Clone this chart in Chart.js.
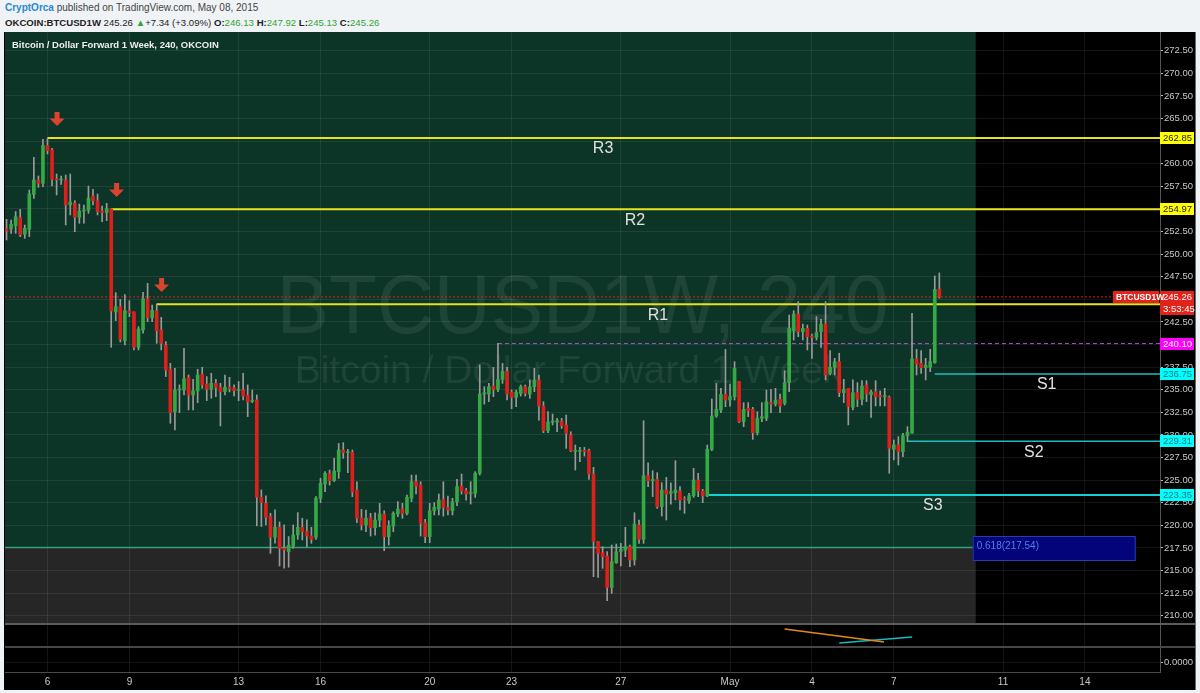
<!DOCTYPE html>
<html>
<head>
<meta charset="utf-8">
<script src="https://cdn.jsdelivr.net/npm/chart.js@4.4.1/dist/chart.umd.min.js"></script>
<style>
  html, body { margin: 0; padding: 0; }
  body { width: 1200px; height: 693px; background: #f0f3f6; position: relative; overflow: hidden;
         font-family: "Liberation Sans", Arial, sans-serif; }
  #hdr1 { position: absolute; left: 5px; top: 2px; font-size: 10px; color: #444; white-space: nowrap; }
  #hdr1 .who { color: #2a87d0; font-weight: bold; }
  #hdr2 { position: absolute; left: 5px; top: 17px; font-size: 9.6px; color: #222; white-space: nowrap; }
  #hdr2 .g { color: #2fa52f; }
  #wrap { position: absolute; left: 4px; top: 32px; width: 1191px; height: 658px; background: #000;
          border-right: 1px solid #6a6a6a; }
</style>
</head>
<body>
<div id="hdr1"><span class="who">CryptOrca</span> published on TradingView.com, May 08, 2015</div>
<div id="hdr2"><b>OKCOIN:BTCUSD1W</b> 245.26 <span class="g">&#9650;</span>+7.34 (+3.09%) <b>O:</b><span class="g">246.13</span> <b>H:</b><span class="g">247.92</span> <b>L:</b><span class="g">245.13</span> <b>C:</b><span class="g">245.26</span></div>
<div id="wrap"><canvas id="c"></canvas></div>
<script>
// x values are days counted from Apr 0 (May 1 = 31)
const xTickPos = [6, 9, 13, 16, 20, 23, 27, 31, 34, 37, 41, 44];
const xTickLabels = ['6', '9', '13', '16', '20', '23', '27', 'May', '4', '7', '11', '14'];
const yTicks = [210, 212.5, 215, 217.5, 220, 222.5, 225, 227.5, 230, 232.5, 235, 237.5, 240,
  242.5, 245, 247.5, 250, 252.5, 255, 257.5, 260, 262.5, 265, 267.5, 270, 272.5];

const firstCandle = 4.5;   // Apr 4, 12:00
const candleStep = 1 / 6;  // 240 minute bars

const opens = [
  252.78, 252.78, 253.15, 254.03, 252.19, 252.74, 256.61, 258.20, 257.83, 262.00,
  261.52, 258.27, 258.20, 258.20, 255.43, 255.62, 254.07, 254.77, 254.84, 256.43,
  255.91, 254.77, 254.59, 254.99, 243.60, 244.19, 240.43, 243.71, 243.60, 239.69,
  241.61, 245.04, 242.97, 243.71, 241.61, 239.91, 237.26, 232.57, 234.97, 234.97,
  236.37, 234.42, 234.86, 236.71, 235.64, 235.05, 235.71, 235.27, 234.79, 235.27,
  235.20, 234.90, 234.97, 234.38, 233.72, 233.87, 223.10, 222.43, 220.96, 218.67,
  219.78, 217.46, 217.09, 217.71, 218.93, 219.78, 219.30, 218.82, 218.67, 222.99,
  224.57, 225.74, 224.93, 225.93, 228.33, 228.03, 228.07, 223.90, 220.84, 220.03,
  220.84, 219.73, 220.58, 221.25, 218.74, 219.92, 221.25, 221.80, 221.32, 222.98,
  224.82, 224.45, 220.29, 218.74, 221.61, 221.80, 222.87, 221.98, 221.61, 222.61,
  224.34, 223.83, 223.53, 223.53, 225.74, 234.52, 234.52, 235.40, 235.04, 236.14,
  237.03, 234.74, 234.15, 234.59, 235.33, 234.52, 235.33, 236.07, 233.19, 230.46,
  231.42, 231.42, 231.53, 231.09, 229.99, 228.18, 228.18, 228.29, 228.25, 225.67,
  218.19, 216.97, 216.60, 213.13, 215.86, 217.08, 217.26, 217.63, 216.16, 220.03,
  218.44, 225.49, 224.93, 225.08, 222.06, 223.90, 223.53, 223.61, 223.79, 222.87,
  222.72, 223.28, 225.01, 223.79, 223.24, 228.40, 232.09, 232.75, 234.48, 233.86,
  234.23, 235.89, 231.46, 232.94, 232.83, 230.24, 231.83, 231.83, 233.57, 233.42,
  233.94, 233.49, 235.78, 241.53, 243.37, 241.42, 241.79, 240.94, 240.80, 241.42,
  242.27, 236.81, 237.48, 238.10, 234.67, 235.15, 233.05, 234.67, 233.94, 235.52,
  234.45, 234.78, 234.34, 234.23, 234.16, 228.41, 228.89, 228.15, 229.92, 230.18,
  238.40, 237.92, 237.44, 237.48, 238.00, 246.13
];
const highs = [
  253.85, 253.77, 254.70, 254.95, 253.22, 257.09, 260.70, 258.64, 262.70, 262.81,
  261.70, 258.86, 258.64, 258.75, 258.86, 255.91, 255.54, 255.43, 257.53, 257.17,
  256.65, 255.32, 255.62, 255.00, 245.74, 245.00, 245.52, 244.85, 243.60, 241.97,
  245.77, 246.77, 244.37, 244.48, 243.00, 240.32, 237.92, 237.37, 235.53, 239.58,
  236.63, 236.15, 237.26, 237.48, 236.45, 236.82, 236.15, 235.71, 236.63, 236.37,
  235.53, 235.90, 236.82, 235.53, 234.97, 234.42, 223.91, 223.25, 221.33, 221.70,
  220.37, 220.04, 218.75, 220.04, 221.40, 220.78, 220.59, 219.78, 223.17, 225.20,
  225.94, 226.11, 227.40, 229.06, 229.14, 228.40, 228.33, 224.82, 221.76, 221.69,
  221.32, 221.39, 222.43, 221.61, 220.51, 221.50, 222.61, 222.43, 223.35, 225.56,
  225.56, 224.82, 220.66, 222.43, 222.50, 223.46, 224.82, 223.24, 222.98, 225.08,
  225.67, 224.09, 224.82, 225.93, 237.73, 235.33, 235.70, 237.47, 240.13, 237.91,
  237.47, 234.96, 234.96, 235.52, 235.52, 236.07, 237.36, 236.62, 233.67, 232.57,
  232.30, 231.83, 231.83, 232.20, 230.35, 228.88, 228.62, 228.62, 228.44, 226.41,
  218.19, 217.63, 217.08, 217.82, 217.93, 218.00, 219.77, 217.82, 221.39, 220.58,
  231.57, 226.90, 226.04, 225.82, 224.71, 225.30, 224.71, 227.15, 224.27, 223.17,
  223.53, 226.30, 225.75, 223.98, 228.88, 233.97, 235.70, 235.15, 239.46, 235.63,
  238.10, 235.89, 233.57, 233.57, 233.05, 232.57, 233.57, 234.96, 235.04, 235.15,
  234.52, 237.10, 243.26, 243.74, 244.74, 242.26, 242.15, 241.16, 243.08, 242.79,
  244.74, 239.32, 238.47, 239.03, 236.15, 235.15, 236.08, 235.78, 236.00, 236.00,
  234.97, 236.00, 234.86, 235.15, 234.30, 229.44, 229.81, 230.18, 230.91, 243.45,
  239.47, 239.32, 238.47, 239.47, 247.58, 247.92
];
const lows = [
  251.56, 252.30, 252.30, 251.93, 251.75, 251.93, 256.17, 257.39, 257.46, 261.08,
  257.54, 256.54, 257.72, 253.22, 254.33, 252.48, 253.41, 253.41, 254.51, 255.43,
  254.33, 253.59, 253.70, 239.69, 242.64, 240.28, 239.95, 243.08, 239.40, 239.40,
  241.24, 242.53, 242.53, 240.13, 239.40, 236.45, 231.28, 230.55, 232.46, 234.42,
  232.76, 232.76, 233.57, 235.16, 233.79, 234.05, 234.23, 230.99, 234.42, 234.75,
  234.31, 233.79, 233.87, 232.02, 233.57, 219.93, 219.86, 220.04, 216.90, 218.01,
  215.50, 215.25, 215.36, 217.46, 218.45, 218.38, 217.64, 218.01, 218.45, 222.51,
  223.73, 224.45, 224.82, 225.19, 227.40, 225.82, 223.16, 220.29, 219.48, 219.29,
  218.81, 218.92, 219.84, 217.19, 217.82, 219.29, 220.95, 220.77, 221.14, 222.61,
  223.46, 218.81, 218.07, 218.07, 221.14, 221.14, 221.02, 221.14, 221.14, 222.17,
  223.46, 222.79, 222.35, 223.09, 225.56, 233.41, 233.67, 234.23, 234.78, 235.70,
  233.86, 232.90, 233.12, 234.30, 234.30, 234.04, 234.78, 231.64, 230.24, 230.24,
  231.09, 230.35, 230.72, 228.51, 228.14, 226.11, 227.03, 227.66, 225.08, 214.31,
  214.24, 215.24, 211.66, 212.47, 215.79, 215.49, 216.53, 215.42, 215.60, 218.00,
  218.00, 224.27, 223.17, 221.87, 221.03, 220.58, 222.35, 222.80, 221.69, 221.32,
  222.43, 223.09, 223.17, 222.50, 223.17, 228.25, 231.94, 232.46, 233.12, 233.19,
  233.86, 231.35, 230.91, 232.02, 229.51, 229.99, 231.46, 231.57, 232.46, 233.19,
  232.46, 233.30, 234.78, 240.50, 240.86, 240.50, 239.39, 238.47, 240.50, 239.69,
  236.08, 236.63, 236.63, 234.23, 233.57, 231.10, 232.76, 233.13, 233.31, 233.68,
  231.94, 233.20, 233.20, 233.20, 225.75, 227.23, 226.67, 227.60, 229.26, 230.18,
  236.63, 236.81, 236.08, 237.00, 237.92, 245.13
];
const closes = [
  252.56, 253.30, 254.14, 252.12, 252.85, 256.65, 258.20, 257.83, 262.00, 261.44,
  258.27, 258.20, 258.27, 255.43, 255.76, 254.07, 254.77, 254.88, 256.21, 255.91,
  254.70, 254.59, 255.03, 243.71, 244.19, 240.57, 243.74, 243.52, 239.69, 241.72,
  245.07, 242.97, 243.78, 241.53, 240.13, 237.18, 232.46, 234.97, 235.05, 236.19,
  234.42, 234.86, 236.63, 235.53, 235.05, 235.71, 235.27, 234.79, 235.27, 235.12,
  234.90, 234.97, 234.31, 233.64, 233.79, 223.10, 222.51, 220.89, 218.67, 219.78,
  217.46, 217.27, 217.79, 218.93, 219.78, 219.30, 218.82, 218.45, 222.99, 224.65,
  225.75, 224.93, 226.00, 228.33, 228.03, 228.14, 223.68, 220.77, 220.03, 220.77,
  219.73, 220.58, 221.25, 218.74, 219.96, 221.32, 221.80, 221.32, 223.09, 224.82,
  224.34, 220.21, 218.74, 221.61, 221.98, 222.79, 221.98, 221.69, 222.61, 224.27,
  223.79, 223.46, 223.64, 225.74, 234.52, 234.67, 235.33, 235.04, 236.14, 237.03,
  234.52, 234.15, 234.74, 235.33, 234.59, 235.33, 236.07, 233.19, 230.46, 231.42,
  231.50, 231.57, 231.02, 230.17, 228.25, 228.25, 228.25, 228.18, 225.67, 218.19,
  216.90, 216.53, 213.13, 215.97, 217.08, 217.34, 217.63, 216.16, 220.14, 218.44,
  225.49, 224.93, 225.08, 222.06, 223.90, 223.46, 223.72, 223.90, 222.80, 222.80,
  223.28, 225.01, 223.79, 223.24, 228.40, 232.09, 232.83, 234.48, 233.86, 234.23,
  237.36, 231.46, 232.83, 232.68, 230.24, 231.83, 232.02, 233.67, 233.42, 233.86,
  233.19, 235.78, 241.79, 243.37, 241.42, 241.79, 240.86, 240.80, 241.31, 242.27,
  236.63, 237.48, 238.10, 234.67, 235.04, 233.13, 234.67, 233.94, 235.41, 234.52,
  234.75, 234.23, 234.20, 234.30, 228.52, 228.89, 228.15, 229.92, 230.29, 238.40,
  237.85, 237.44, 237.70, 238.10, 246.10, 245.26
];

// drawn levels (value, where the line starts, where its name sits)
const levelNames = ['R3', 'R2', 'R1', 'S1', 'S2', 'S3'];
const levelValues = [262.85, 254.97, 244.45, 236.75, 229.31, 223.35];
const levelStart = [6.0, 8.333, 10.0, 38.5, 37.5, 30.167];
const levelLabelX = [26.35, 27.52, 28.36, 42.6, 42.13, 38.43];
const lastPrice = 245.26;
const countdown = '3:53:45';
const swingHigh = 240.10;
const swingHighStart = 22.5;
const fibLevel = 217.54;
const fibEnd = 40;
const arrowX = [6.35, 8.53, 10.18];
const arrowY = [264.17, 256.32, 245.81];
// lower indicator pane
const orangeX = [33.0, 36.64];
const orangeY = [0.78, 0.22];
const cyanX = [35.0, 37.67];
const cyanY = [0.17, 0.43];

const xMin = 4.443, xMax = 46.75;
const yMin = 209.08, yMax = 274.57;

const FONT = '"Liberation Sans", Arial, sans-serif';
const gridColor = 'rgba(255,255,255,0.08)';
const upColor = '#36a845';
const downColor = '#df1f1b';
const yellow = '#e4e41c';
const cyanLine = '#1fbcc0';

const candleX = opens.map((o, i) => firstCandle + i * candleStep);

function seg(x0, x1, y0, y1, color, width, dash, axis) {
  return {
    type: 'line',
    data: [{x: x0, y: y0}, {x: x1, y: y1}],
    borderColor: color,
    borderWidth: width,
    borderDash: dash || [],
    pointRadius: 0,
    fill: false,
    order: 2,
    yAxisID: axis || 'y',
  };
}

const levelColors = [yellow, yellow, yellow, cyanLine, cyanLine, '#12d0d4'];
const levelWidths = [2, 2, 2, 1.5, 1.5, 2];

const datasets = [
  {
    type: 'bar',
    data: candleX.map((x, i) => ({x, y: [opens[i], closes[i]]})),
    backgroundColor: opens.map((o, i) => closes[i] >= o ? upColor : downColor),
    barThickness: 3,
    minBarLength: 1,
    grouped: false,
    order: 0,
    yAxisID: 'y',
  },
  {
    type: 'bar',
    data: candleX.map((x, i) => ({x, y: [lows[i], highs[i]]})),
    backgroundColor: '#9a9a9a',
    barThickness: 1,
    grouped: false,
    order: 1,
    yAxisID: 'y',
  },
  seg(xMin, fibEnd, fibLevel, fibLevel, '#36a085', 1.5),
  seg(xMin, xMax, lastPrice, lastPrice, '#e0241c', 1, [2, 2]),
  seg(swingHighStart, xMax, swingHigh, swingHigh, '#b24fd0', 1, [4, 3]),
  ...levelValues.map((v, i) => seg(levelStart[i], xMax, v, v, levelColors[i], levelWidths[i])),
  seg(orangeX[0], orangeX[1], orangeY[0], orangeY[1], '#e08a1e', 1.5, null, 'yInd'),
  seg(cyanX[0], cyanX[1], cyanY[0], cyanY[1], '#1ab8c6', 1.5, null, 'yInd'),
];

function tag(ctx, x, yc, w, text, bg, fg) {
  ctx.fillStyle = bg;
  ctx.fillRect(x, Math.round(yc) - 6, w, 12);
  ctx.fillStyle = fg;
  ctx.textAlign = 'left';
  ctx.textBaseline = 'middle';
  ctx.fillText(text, x + 3, Math.round(yc) + 0.5);
}

// no extra room for the end labels: panes sit flush like the original
function flushPane(s) {
  s.width = 35;
  s.paddingTop = 0;
  s.paddingBottom = 0;
}

const overlay = {
  id: 'overlay',
  beforeDraw(chart) {
    const {ctx, chartArea: a, scales: {x, y}} = chart;
    ctx.save();
    ctx.fillStyle = '#000';
    ctx.fillRect(0, 0, chart.width, chart.height);
    const x1 = x.getPixelForValue(fibEnd);
    const yf = y.getPixelForValue(fibLevel);
    ctx.fillStyle = '#0c3427';
    ctx.fillRect(a.left, y.top, x1 - a.left, yf - y.top);
    ctx.fillStyle = '#262626';
    ctx.fillRect(a.left, yf, x1 - a.left, y.bottom - yf);
    // watermark
    const cx = (a.left + a.right) / 2;
    ctx.fillStyle = 'rgba(255,255,255,0.075)';
    ctx.textAlign = 'center';
    ctx.textBaseline = 'alphabetic';
    ctx.font = '84px ' + FONT;
    ctx.fillText('BTCUSD1W, 240', cx, 301, 612);
    ctx.font = '39px ' + FONT;
    ctx.fillText('Bitcoin / Dollar Forward 1 Week', cx - 14, 351);
    ctx.restore();
  },
  afterDraw(chart) {
    const {ctx, chartArea: a, scales: {x, y, yInd}} = chart;
    ctx.save();
    // pane separators
    ctx.fillStyle = '#5c5c5c';
    ctx.fillRect(a.left, y.bottom - 1, chart.width - a.left, 2);
    ctx.fillStyle = '#474747';
    ctx.fillRect(a.left, yInd.bottom - 1, chart.width - a.left, 2);

    // title
    ctx.font = 'bold 9.5px ' + FONT;
    ctx.fillStyle = '#eeeeee';
    ctx.textAlign = 'left';
    ctx.textBaseline = 'middle';
    ctx.fillText('Bitcoin / Dollar Forward 1 Week, 240, OKCOIN', 8, 13.5);

    // arrows
    ctx.fillStyle = '#d8442f';
    arrowX.forEach((ax, i) => {
      const tx = x.getPixelForValue(ax), ty = y.getPixelForValue(arrowY[i]);
      ctx.beginPath();
      ctx.moveTo(tx, ty);
      ctx.lineTo(tx - 7.5, ty - 7.5);
      ctx.lineTo(tx - 2.5, ty - 7.5);
      ctx.lineTo(tx - 2.5, ty - 14);
      ctx.lineTo(tx + 2.5, ty - 14);
      ctx.lineTo(tx + 2.5, ty - 7.5);
      ctx.lineTo(tx + 7.5, ty - 7.5);
      ctx.closePath();
      ctx.fill();
    });

    // level names
    ctx.font = '16px ' + FONT;
    ctx.fillStyle = '#e2e2e2';
    ctx.textAlign = 'center';
    levelNames.forEach((n, i) => {
      ctx.fillText(n, x.getPixelForValue(levelLabelX[i]), y.getPixelForValue(levelValues[i]) + 11);
    });

    // fib label
    const fx = x.getPixelForValue(fibEnd) - 3;
    const fy = Math.round(y.getPixelForValue(fibLevel));
    ctx.fillStyle = '#03037a';
    ctx.fillRect(fx, fy - 12, 163, 25);
    ctx.strokeStyle = '#2340a8';
    ctx.lineWidth = 1;
    ctx.strokeRect(fx + 0.5, fy - 11.5, 162, 24);
    ctx.font = '10px ' + FONT;
    ctx.fillStyle = '#4f80f0';
    ctx.textAlign = 'left';
    ctx.fillText('0.618(217.54)', fx + 4, fy - 2);

    // price axis tags
    ctx.font = '9.5px ' + FONT;
    const ax = y.left;
    const w = chart.width - ax - 1;
    const py = v => y.getPixelForValue(v);
    tag(ctx, ax, py(levelValues[0]), w, levelValues[0].toFixed(2), '#ffff00', '#222');
    tag(ctx, ax, py(levelValues[1]), w, levelValues[1].toFixed(2), '#ffff00', '#222');
    tag(ctx, ax, py(swingHigh), w, swingHigh.toFixed(2), '#ff00ff', '#fff');
    tag(ctx, ax, py(levelValues[3]), w, levelValues[3].toFixed(2), '#00ffff', '#177');
    tag(ctx, ax, py(levelValues[4]), w, levelValues[4].toFixed(2), '#00ffff', '#177');
    tag(ctx, ax, py(levelValues[5]), w, levelValues[5].toFixed(2), '#00ffff', '#177');
    tag(ctx, ax, py(lastPrice) + 12, w, countdown, '#e0241c', '#fff');
    tag(ctx, ax, py(lastPrice), w, lastPrice.toFixed(2), '#e0241c', '#fff');
    ctx.font = 'bold 8.5px ' + FONT;
    tag(ctx, ax - 47, py(lastPrice), 46, 'BTCUSD1W', '#e0241c', '#fff');
    ctx.restore();
  }
};

const axisFont = {family: FONT, size: 9.5};

new Chart(document.getElementById('c'), {
  type: 'bar',
  data: {datasets},
  options: {
    responsive: true,
    maintainAspectRatio: false,
    animation: false,
    layout: {padding: {left: 1, right: 0, top: 0, bottom: 0}},
    plugins: {legend: {display: false}, tooltip: {enabled: false}},
    scales: {
      x: {
        type: 'linear',
        min: xMin,
        max: xMax,
        offset: false,
        grid: {color: gridColor, offset: false, drawTicks: false},
        border: {color: '#4a4a4a'},
        afterBuildTicks: s => { s.ticks = xTickPos.map(v => ({value: v})); },
        ticks: {
          autoSkip: false, maxRotation: 0, padding: 4, color: '#c8c8c8',
          font: {family: FONT, size: 10},
          callback: (v, i) => xTickLabels[i],
        },
        afterFit: s => { s.height = 18; s.paddingLeft = 0; s.paddingRight = 0; },
      },
      y: {
        type: 'linear',
        position: 'right',
        stack: 'panes',
        stackWeight: 592,
        min: yMin,
        max: yMax,
        grid: {color: gridColor, tickLength: 3, tickColor: '#bbbbbb'},
        border: {color: '#555555'},
        afterBuildTicks: s => { s.ticks = yTicks.map(v => ({value: v})); },
        ticks: {autoSkip: false, padding: 1, color: '#c8c8c8', font: axisFont,
                callback: v => v.toFixed(2)},
        afterFit: flushPane,
      },
      yInd: {
        type: 'linear',
        position: 'right',
        stack: 'panes',
        stackWeight: 23,
        min: 0,
        max: 1,
        grid: {display: false},
        border: {color: '#555555'},
        ticks: {display: false},
        afterFit: flushPane,
      },
      yZero: {
        type: 'linear',
        position: 'right',
        stack: 'panes',
        stackWeight: 25,
        min: -0.4,
        max: 0.6,
        grid: {color: gridColor, tickLength: 3, tickColor: '#bbbbbb'},
        border: {color: '#555555'},
        afterBuildTicks: s => { s.ticks = [{value: 0}]; },
        ticks: {autoSkip: false, padding: 1, color: '#c8c8c8', font: axisFont,
                callback: v => v.toFixed(4)},
        afterFit: flushPane,
      },
    },
  },
  plugins: [overlay],
});
</script>
</body>
</html>
